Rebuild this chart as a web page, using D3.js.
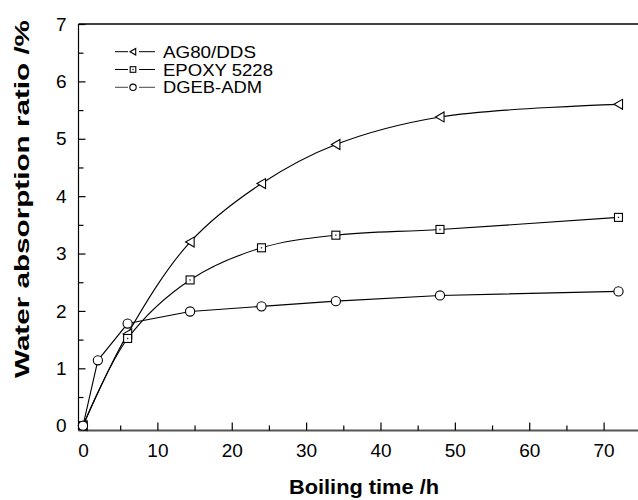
<!DOCTYPE html>
<html>
<head>
<meta charset="utf-8">
<script src="https://cdn.jsdelivr.net/npm/d3@7"></script>
<style>
  body { margin: 0; background: #fff; }
  svg { display: block; font-family: "Liberation Sans", Arial, sans-serif; }
</style>
</head>
<body>
<div id="chart"></div>
<script>
// boiling time (h) and water uptake (%)
const hoursAG = [0, 6, 14.4, 24, 34, 48, 72];
const agDds = [0, 1.6, 3.2, 4.22, 4.9, 5.38, 5.6];
const hoursEP = [0, 6, 14.4, 24, 34, 48, 72];
const epoxy5228 = [0, 1.52, 2.54, 3.1, 3.32, 3.42, 3.63];
const hoursDG = [0, 2, 6, 14.4, 24, 34, 48, 72];
const dgebAdm = [0, 1.14, 1.78, 1.99, 2.08, 2.17, 2.27, 2.34];

const seriesNames = ['AG80/DDS', 'EPOXY 5228', 'DGEB-ADM'];
const xMajorTicks = [0, 10, 20, 30, 40, 50, 60, 70];
const xMinorTicks = [5, 15, 25, 35, 45, 55, 65];
const yMajorTicks = [0, 1, 2, 3, 4, 5, 6, 7];
const yMinorTicks = [0.5, 1.5, 2.5, 3.5, 4.5, 5.5, 6.5];

const W = 638, H = 500;
const frame = { left: 78.5, top: 24, bottom: 430.5, right: 638 };

const svg = d3.select('#chart').append('svg')
  .attr('width', W).attr('height', H);

// scales: x=0 sits a few px right of the frame, y=0 a few px above it
const x = d3.scaleLinear().domain([0, 70]).range([83, 603.6]);
const y = d3.scaleLinear().domain([0, 7]).range([425.7, 24]);

// frame lines (no right border visible)
svg.append('line')
  .attr('x1', frame.left).attr('x2', frame.right)
  .attr('y1', frame.top).attr('y2', frame.top)
  .attr('stroke', '#000').attr('stroke-width', 1.5);
svg.append('line')
  .attr('x1', frame.left).attr('x2', frame.left)
  .attr('y1', frame.top).attr('y2', frame.bottom)
  .attr('stroke', '#000').attr('stroke-width', 1.2);
svg.append('line')
  .attr('x1', frame.left).attr('x2', frame.right)
  .attr('y1', frame.bottom).attr('y2', frame.bottom)
  .attr('stroke', '#555').attr('stroke-width', 2);

// x axis, ticks pointing inward
const xAxis = svg.append('g')
  .attr('transform', `translate(0,${frame.bottom})`)
  .call(d3.axisBottom(x).tickValues(xMajorTicks).tickSizeInner(-8).tickSizeOuter(0).tickPadding(13));
xAxis.select('.domain').remove();
svg.append('g')
  .attr('transform', `translate(0,${frame.bottom})`)
  .call(d3.axisBottom(x).tickValues(xMinorTicks).tickSizeInner(-5).tickSizeOuter(0).tickFormat(''))
  .select('.domain').remove();

const yAxis = svg.append('g')
  .attr('transform', `translate(${frame.left},0)`)
  .call(d3.axisLeft(y).tickValues(yMajorTicks).tickFormat(d3.format('d'))
    .tickSizeInner(-7).tickSizeOuter(0).tickPadding(12));
yAxis.select('.domain').remove();
svg.append('g')
  .attr('transform', `translate(${frame.left},0)`)
  .call(d3.axisLeft(y).tickValues(yMinorTicks).tickSizeInner(-5).tickSizeOuter(0).tickFormat(''))
  .select('.domain').remove();

svg.selectAll('.tick line').attr('stroke', '#000').attr('stroke-width', 1.2);
svg.selectAll('.tick text')
  .attr('font-family', '"Liberation Sans", Arial, sans-serif')
  .attr('font-size', 19).attr('fill', '#000');

// axis titles (the original type is drawn wide, so stretch to its length)
svg.append('text')
  .attr('x', 364).attr('y', 494)
  .attr('text-anchor', 'middle')
  .attr('font-size', 21).attr('font-weight', 'bold')
  .attr('textLength', 150).attr('lengthAdjust', 'spacingAndGlyphs')
  .text('Boiling time /h');
svg.append('text')
  .attr('transform', 'translate(29,199) rotate(-90)')
  .attr('text-anchor', 'middle')
  .attr('font-size', 21).attr('font-weight', 'bold')
  .attr('textLength', 358).attr('lengthAdjust', 'spacingAndGlyphs')
  .text('Water absorption ratio /%');

// curves
const smooth = d3.line().x(d => x(d[0])).y(d => y(d[1])).curve(d3.curveCatmullRom.alpha(0.5));
const straight = d3.line().x(d => x(d[0])).y(d => y(d[1]));

const agPts = hoursAG.map((h, i) => [h, agDds[i]]);
const epPts = hoursEP.map((h, i) => [h, epoxy5228[i]]);
const dgPts = hoursDG.map((h, i) => [h, dgebAdm[i]]);

const plot = svg.append('g');
plot.append('path').datum(agPts).attr('d', smooth)
  .attr('fill', 'none').attr('stroke', '#000').attr('stroke-width', 1.1);
plot.append('path').datum(epPts).attr('d', smooth)
  .attr('fill', 'none').attr('stroke', '#000').attr('stroke-width', 1.1);
plot.append('path').datum(dgPts).attr('d', straight)
  .attr('fill', 'none').attr('stroke', '#000').attr('stroke-width', 1.1);

// marker drawers
function triangle(g, cx, cy, s) {
  g.append('path')
    .attr('d', `M${cx - s},${cy} L${cx + s * 0.9},${cy - s * 1.1} L${cx + s * 0.9},${cy + s * 1.1} Z`)
    .attr('fill', '#fff').attr('stroke', '#000').attr('stroke-width', 1.1);
}
function square(g, cx, cy, s) {
  g.append('rect')
    .attr('x', cx - s).attr('y', cy - s).attr('width', 2 * s).attr('height', 2 * s)
    .attr('fill', '#fff').attr('stroke', '#000').attr('stroke-width', 1.1);
  g.append('rect')
    .attr('x', cx - 0.7).attr('y', cy - 0.7).attr('width', 1.4).attr('height', 1.4)
    .attr('fill', '#333');
}
function circle(g, cx, cy, r) {
  g.append('circle')
    .attr('cx', cx).attr('cy', cy).attr('r', r)
    .attr('fill', '#fff').attr('stroke', '#000').attr('stroke-width', 1.1);
}

agPts.forEach(d => triangle(plot, x(d[0]), y(d[1]), 4.5));
epPts.forEach(d => square(plot, x(d[0]), y(d[1]), 4));
dgPts.forEach(d => circle(plot, x(d[0]), y(d[1]), 4.6));

// legend: short line, marker, short line, label
const legend = svg.append('g');
const markers = [triangle, square, circle];
const markerSize = [3, 2.8, 3.2];
seriesNames.forEach((name, i) => {
  const ly = 51.7 + i * 17.8;
  const col = i === 2 ? '#444' : '#000';
  legend.append('line')
    .attr('x1', 115).attr('x2', 128).attr('y1', ly).attr('y2', ly)
    .attr('stroke', col).attr('stroke-width', 1);
  legend.append('line')
    .attr('x1', 139).attr('x2', 155).attr('y1', ly).attr('y2', ly)
    .attr('stroke', col).attr('stroke-width', 1);
  markers[i](legend, 133, ly, markerSize[i]);
  legend.append('text')
    .attr('x', 163).attr('y', ly + 6)
    .attr('font-size', 16.5).attr('fill', '#000')
    .attr('textLength', [93, 110, 99][i]).attr('lengthAdjust', 'spacingAndGlyphs')
    .text(name);
});
</script>
</body>
</html>
